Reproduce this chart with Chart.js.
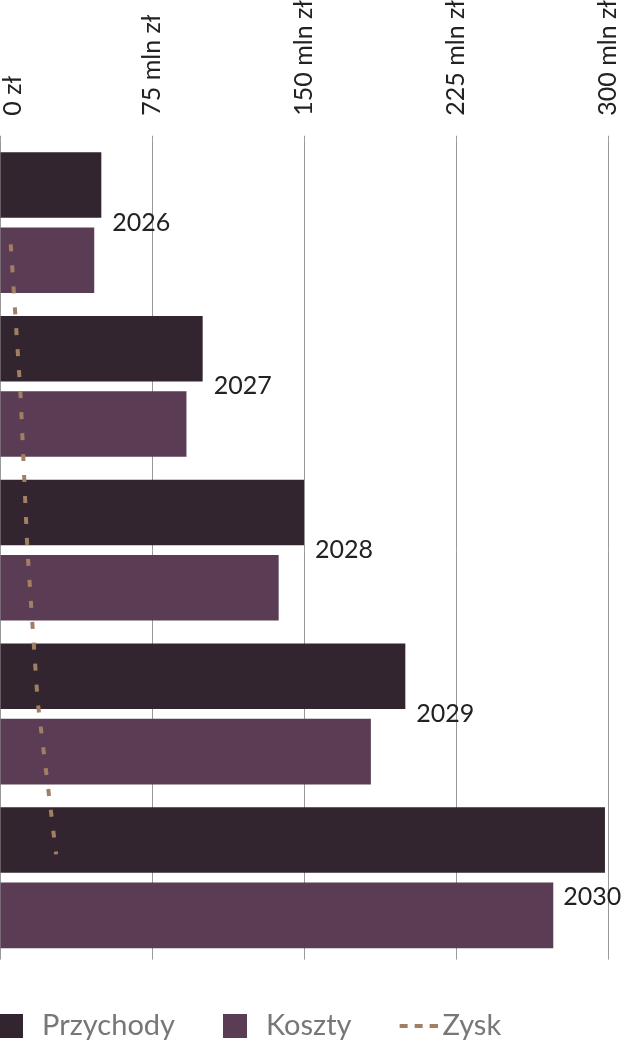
<!DOCTYPE html>
<html>
<head>
<meta charset="utf-8">
<script src="https://cdn.jsdelivr.net/npm/chart.js@4.4.1/dist/chart.umd.min.js"></script>
<style>
  html, body { margin: 0; padding: 0; background: #fff; }
  #wrap { width: 630px; height: 1055px; position: relative; }
</style>
</head>
<body>
<div id="wrap"><canvas id="chart"></canvas></div>
<script>
// --- data ---
const years = ['2026', '2027', '2028', '2029', '2030'];
const przychody = [50, 100, 150, 200, 298.5];
const koszty = [46.5, 92, 137.5, 183, 273];
const zysk = [5.3, 10.2, 13.5, 18.6, 27.7];
const xTicks = [0, 75, 150, 225, 300];

const colors = { przychody: '#32252f', koszty: '#5a3d55', zysk: '#a27e63' };
const tickFont = '25px Lato';

// znaczniki legendy (kwadrat / przerywana linia)
function squareMarker(color) {
    const c = document.createElement('canvas');
    c.width = 24; c.height = 24;
    const g = c.getContext('2d');
    g.fillStyle = color;
    g.fillRect(0, 0, 24, 24);
    return c;
}
function dashMarker(color) {
    const c = document.createElement('canvas');
    c.width = 52; c.height = 4;
    const g = c.getContext('2d');
    g.strokeStyle = color;
    g.lineWidth = 4;
    g.setLineDash([8, 7]);
    g.beginPath();
    g.moveTo(14, 2);
    g.lineTo(52, 2);
    g.stroke();
    return c;
}

// lata przy końcach słupków + etykieta "0 zł"
const yearLabels = {
    id: 'yearLabels',
    afterDatasetsDraw(chart) {
        const ctx = chart.ctx;
        const yScale = chart.scales.y;
        const xScale = chart.scales.x;
        const barsP = chart.getDatasetMeta(0).data;
        const barsK = chart.getDatasetMeta(1).data;
        ctx.save();
        ctx.font = '25px Lato';
        ctx.fillStyle = '#222';
        ctx.textBaseline = 'middle';
        years.forEach((year, i) => {
            const w = ctx.measureText(year).width;
            let x = barsP[i].x + 11;
            let y = yScale.getPixelForValue(i);
            // nie mieści się -> za krótszym słupkiem
            if (x + w > chart.width) {
                x = barsK[i].x + 10;
                y = (y + barsK[i].y) / 2;
            }
            ctx.fillText(year, x, y);
        });
        ctx.font = tickFont;
        ctx.translate(xScale.getPixelForValue(0) + 13, chart.chartArea.top - 25);
        ctx.rotate(-Math.PI / 2);
        ctx.textAlign = 'left';
        ctx.fillText('0 zł', 0, 0);
        ctx.restore();
    }
};

// indexAxis ustawiony na poziomie datasetów (druga oś y dla linii nie zmienia szerokości słupków)
new Chart(document.getElementById('chart'), {
    type: 'bar',
    data: {
        labels: years,
        datasets: [
            {
                label: 'Przychody',
                data: przychody,
                indexAxis: 'y',
                backgroundColor: colors.przychody,
                borderWidth: 0,
                categoryPercentage: 0.92,
                barPercentage: 0.87,
                pointStyle: squareMarker(colors.przychody),
                order: 2
            },
            {
                label: 'Koszty',
                data: koszty,
                indexAxis: 'y',
                backgroundColor: colors.koszty,
                borderWidth: 0,
                categoryPercentage: 0.92,
                barPercentage: 0.87,
                pointStyle: squareMarker(colors.koszty),
                order: 2
            },
            {
                type: 'line',
                label: 'Zysk',
                indexAxis: 'y',
                data: zysk.map((v, i) => ({ x: v, y: i })),
                yAxisID: 'y2',
                borderColor: colors.zysk,
                backgroundColor: colors.zysk,
                borderWidth: 4,
                borderDash: [7, 14],
                pointRadius: 0,
                pointStyle: dashMarker(colors.zysk),
                fill: false,
                order: 1
            }
        ]
    },
    options: {
        responsive: true,
        maintainAspectRatio: false,
        animation: false,
        layout: { padding: { left: -49, right: 22, top: 0, bottom: 4.5 } },
        scales: {
            x: {
                type: 'linear',
                position: 'top',
                offset: false,
                min: 0,
                max: 300,
                afterBuildTicks: axis => { axis.ticks = xTicks.map(v => ({ value: v })); },
                grid: { offset: false, color: '#999', tickLength: 25, tickBorderDash: [0, 20, 5, 100] },
                border: { display: false },
                ticks: {
                    minRotation: 90,
                    maxRotation: 90,
                    padding: 0,
                    labelOffset: 28.25,
                    color: '#222',
                    font: { family: 'Lato', size: 25, lineHeight: 1.13 },
                    callback: v => v === 0 ? [] : v + ' mln zł'
                }
            },
            y: {
                type: 'category',
                offset: true,
                display: false
            },
            y2: {
                type: 'linear',
                display: false,
                offset: false,
                reverse: true,
                min: -0.68,
                max: 4.69
            }
        },
        plugins: {
            legend: {
                position: 'bottom',
                align: 'start',
                title: { display: true, text: '', font: { size: 7 }, padding: 0 },
                labels: {
                    usePointStyle: true,
                    pointStyleWidth: 33,
                    boxHeight: 24,
                    padding: 43.5,
                    color: '#777',
                    font: { family: 'Lato', size: 29 },
                    sort: (a, b) => a.datasetIndex - b.datasetIndex
                }
            },
            tooltip: { enabled: false }
        }
    },
    plugins: [yearLabels]
});
</script>
</body>
</html>
